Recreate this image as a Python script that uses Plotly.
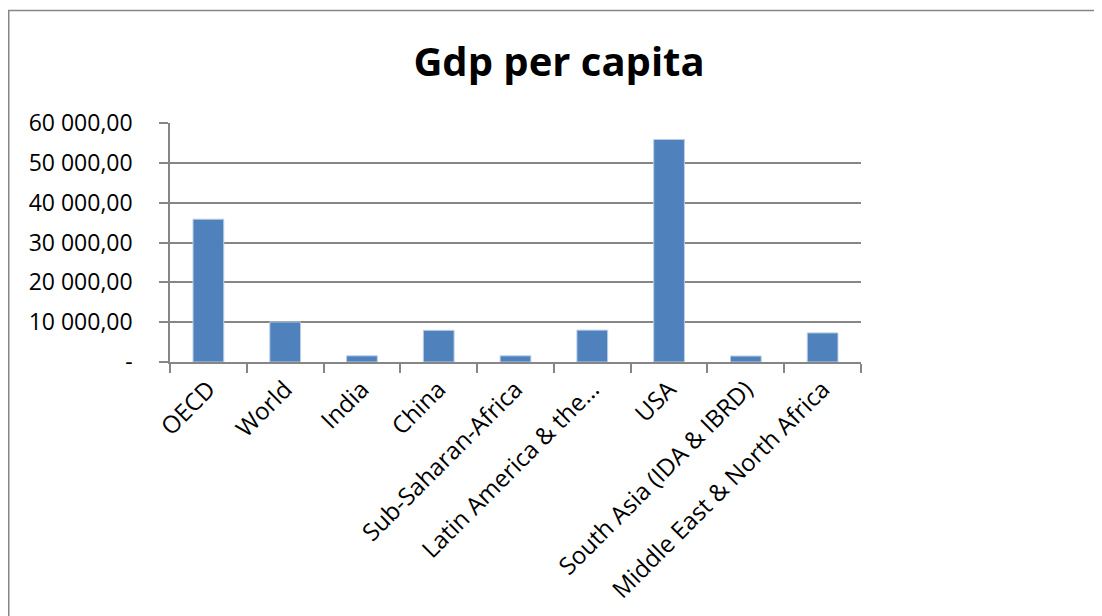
import plotly.graph_objects as go

categories = ["OECD", "World", "India", "China", "Sub-Saharan-Africa",
              "Latin America & the…", "USA", "South Asia (IDA & IBRD)",
              "Middle East & North Africa"]
gdp_values = [35850, 10050, 1550, 7950, 1550, 8000, 55850, 1500, 7300]
y_tick_vals = [0, 10000, 20000, 30000, 40000, 50000, 60000]
y_tick_text = ["-", "10 000,00", "20 000,00", "30 000,00", "40 000,00",
               "50 000,00", "60 000,00"]

# page is offset by the 8px body margin
OFF = 8
W, H = 1102 - OFF, 616 - OFF
L, R, T, B = 170 - OFF, 861 - OFF, 123 - OFF, 362 - OFF

fig = go.Figure(go.Bar(
    x=categories, y=gdp_values,
    marker=dict(color="#4F81BD", line=dict(color="#B9CDE5", width=1)),
    width=0.4,
))

font = "'Open Sans', Lato, sans-serif"
fig.update_layout(
    width=W, height=H,
    margin=dict(l=L, r=W - R, t=T, b=H - B),
    paper_bgcolor="white", plot_bgcolor="white",
    showlegend=False,
    title=dict(text="<b>Gdp per capita</b>", x=(559 - OFF) / W, xanchor="center",
               y=1 - (62 - OFF) / H, yanchor="middle",
               font=dict(family=font, size=40, color="black")),
    font=dict(family=font, color="black"),
)
fig.update_yaxes(
    range=[0, 60000], tickvals=y_tick_vals, ticktext=y_tick_text,
    showgrid=True, gridcolor="#868686", gridwidth=1.5,
    showline=True, linecolor="#868686", linewidth=1.5,
    ticks="outside", ticklen=9, tickcolor="#868686", tickwidth=1.5,
    ticklabelstandoff=22,
    tickfont=dict(size=23, family=font), zeroline=False, fixedrange=True,
)
fig.update_xaxes(
    type="category", tickangle=-45, tickson="boundaries",
    showline=True, linecolor="#868686", linewidth=1.5,
    ticks="outside", ticklen=9, tickcolor="#868686", tickwidth=1.5,
    ticklabelstandoff=2,
    tickfont=dict(size=24, family=font), showgrid=False,
)
# chart-area border (left and top edges visible)
bx, by = 8 - OFF, 10.5 - OFF
fig.add_shape(type="line", xref="paper", yref="paper",
              x0=(bx + 0.75 - L) / (R - L), x1=(bx + 0.75 - L) / (R - L),
              y0=(B - by) / (B - T), y1=(B - 700) / (B - T),
              line=dict(color="#868686", width=1.5))
fig.add_shape(type="line", xref="paper", yref="paper",
              x0=(bx - L) / (R - L), x1=(1200 - L) / (R - L),
              y0=(B - by) / (B - T), y1=(B - by) / (B - T),
              line=dict(color="#868686", width=1.5))

fig.write_html("out.html")
